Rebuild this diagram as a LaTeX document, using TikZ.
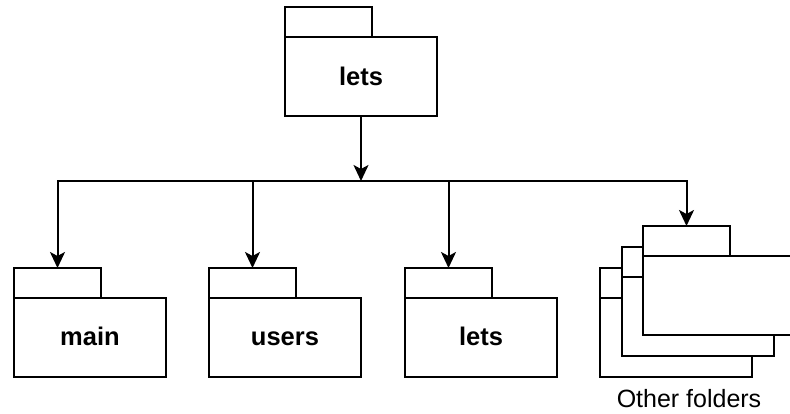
\documentclass[tikz,border=0pt]{standalone}
\usepackage{fontspec}
\setmainfont{Liberation Sans}
\usetikzlibrary{arrows.meta,positioning}
\definecolor{ink}{HTML}{000000}

\tikzset{
  folder/.style={draw=ink,fill=white,line width=2pt,minimum width=152pt,minimum height=79pt,
    inner sep=0pt,outer sep=0pt,text height=18pt,text depth=1.6pt,
    font=\fontsize{25.5}{30}\selectfont\bfseries},
  foldertab/.style={draw=ink,fill=white,line width=2pt,minimum width=87pt,minimum height=30pt,
    inner sep=0pt,outer sep=0pt,anchor=south west},
  link/.style={draw=ink,line width=2pt,-{Stealth[length=16pt,width=15pt,inset=4pt]}},
}

\begin{document}
\begin{tikzpicture}[x=1pt,y=-1pt]
  \clip (0,0) rectangle (790,414);
  % parent folder
  \node[folder] (top) at (361,77) {lets};
  \node[foldertab] (toptab) at (top.north west) {};
  \coordinate (hub) at (361,181);
  % child folders
  \node[folder] (main) at (90,337.5) {main};
  \node[foldertab] (maintab) at (main.north west) {};
  \node[folder,right=43pt of main] (users) {users};
  \node[foldertab] (userstab) at (users.north west) {};
  \node[folder,right=44pt of users] (lets) {lets};
  \node[foldertab] (letstab) at (lets.north west) {};
  % stack of other folders, back to front
  \node[folder] (othA) at (676,337.5) {};
  \node[foldertab] (othAtab) at (othA.north west) {};
  \node[folder] (othB) at (698,316.5) {};
  \node[foldertab] (othBtab) at (othB.north west) {};
  \node[folder] (othC) at (719,295.5) {};
  \node[foldertab] (othCtab) at (othC.north west) {};
  \node[font=\fontsize{25}{30}\selectfont,anchor=base] (othlabel) at (689,407) {Other folders};
  % connectors
  \draw[link] (top.south) -- (hub);
  \draw[link] (hub) -| (maintab.north);
  \draw[link] (hub) -| (othCtab.north);
  \draw[link] (userstab.north |- hub) -- (userstab.north);
  \draw[link] (letstab.north |- hub) -- (letstab.north);
\end{tikzpicture}
\end{document}
